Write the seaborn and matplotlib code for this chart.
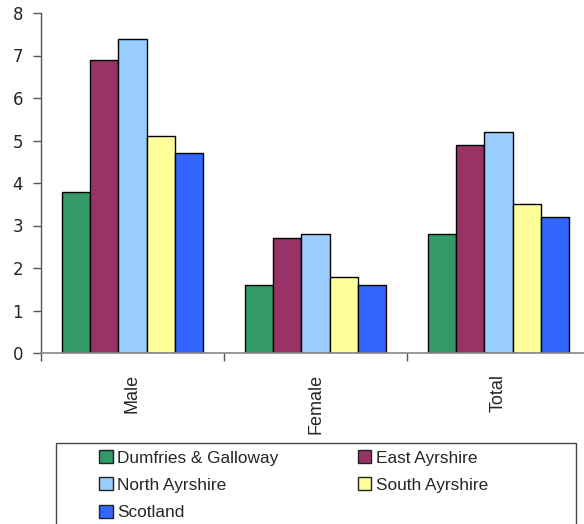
import pandas as pd
import matplotlib
matplotlib.use("Agg")
import matplotlib.pyplot as plt
import matplotlib.patches as mpatches
import seaborn as sns

# data
groups = ["Male", "Female", "Total"]
areas = ["Dumfries & Galloway", "East Ayrshire", "North Ayrshire", "South Ayrshire", "Scotland"]
dumfries = [3.8, 1.6, 2.8]
east_ayr = [6.9, 2.7, 4.9]
north_ayr = [7.4, 2.8, 5.2]
south_ayr = [5.1, 1.8, 3.5]
scotland = [4.7, 1.6, 3.2]
colors = ["#339966", "#993366", "#99CCFF", "#FFFF99", "#3366FF"]

series = [dumfries, east_ayr, north_ayr, south_ayr, scotland]
rows = []
for area, vals in zip(areas, series):
    for g, v in zip(groups, vals):
        rows.append({"group": g, "area": area, "value": v})
df = pd.DataFrame(rows)

sns.set_style("white")
plt.rcParams["font.family"] = ["DejaVu Sans"]

fig = plt.figure(figsize=(5.84, 5.24), dpi=100)
ax = fig.add_axes([41 / 584, 171 / 524, 549 / 584, 340 / 524])

sns.barplot(data=df, x="group", y="value", hue="area", order=groups,
            hue_order=areas, palette=colors, width=0.77, gap=0,
            edgecolor="black", linewidth=1, saturation=1, ax=ax, legend=False)

ax.set_xlim(-0.5, 2.5)
ax.set_ylim(0, 8)
ax.set_yticks(range(0, 9))
ax.set_xlabel("")
ax.set_ylabel("")
ax.tick_params(axis="y", length=6, width=1, color="#555555", pad=7,
               labelsize=12, left=True, direction="out")
ax.set_xticks(range(3))
ax.set_xticklabels(groups, rotation=90, fontsize=13, family="Liberation Sans")
ax.tick_params(axis="x", which="major", length=0, pad=15)
ax.set_xticks([-0.5, 0.5, 1.5, 2.5], minor=True)
ax.tick_params(axis="x", which="minor", length=6, width=1, color="#555555",
               bottom=True, direction="out")

for s in ["top", "right"]:
    ax.spines[s].set_visible(False)
ax.spines["left"].set_color("#555555")
ax.spines["bottom"].set_color("#888888")
ax.spines["left"].set_linewidth(1)
ax.spines["bottom"].set_linewidth(1.2)

# legend fills column by column, so order items to read row by row
order = [0, 2, 4, 1, 3]
handles = [mpatches.Patch(facecolor=colors[i], edgecolor="#222222", linewidth=1) for i in order]
labels = [areas[i] for i in order]
fig.legend(handles, labels, loc="upper left", bbox_to_anchor=(99 / 584, 1 - 450 / 524),
           ncol=2, frameon=False, borderpad=0, borderaxespad=0,
           handlelength=0.8, handleheight=0.8, handletextpad=0.25,
           columnspacing=4.6, labelspacing=0.68,
           prop={"family": "Liberation Sans", "size": 12.4})

box = mpatches.Rectangle((56 / 584, -0.1), 520 / 584, 81 / 524 + 0.1,
                         transform=fig.transFigure, fill=False,
                         edgecolor="#444444", linewidth=1)
fig.add_artist(box)

fig.savefig("out.png", dpi=100)
